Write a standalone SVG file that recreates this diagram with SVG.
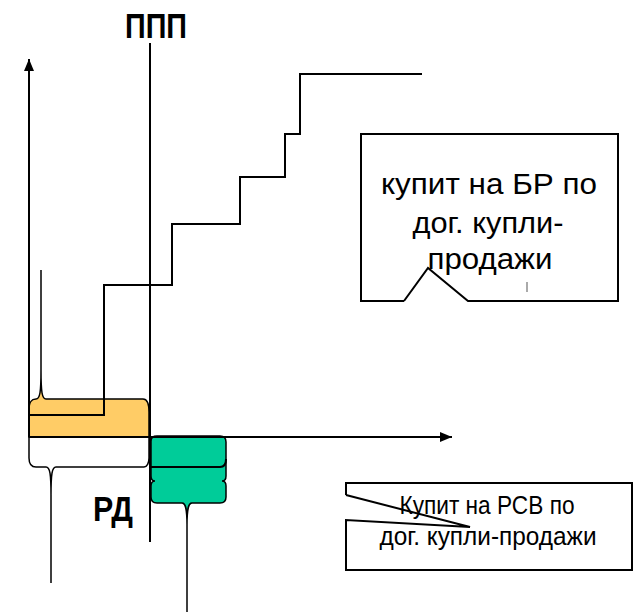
<svg xmlns="http://www.w3.org/2000/svg" width="634" height="613" viewBox="0 0 634 613">
<style>
.ln{fill:none;stroke:#000;stroke-width:2}
.thin{fill:none;stroke:#000;stroke-width:1.5}
.lbl{font-family:"Liberation Sans",Arial,sans-serif;font-weight:bold;font-size:35px;fill:#000}
.t1{font-family:"Liberation Sans",Arial,sans-serif;font-size:29px;fill:#000;text-anchor:middle}
.t2{font-family:"Liberation Sans",Arial,sans-serif;font-size:26px;fill:#000;text-anchor:middle}
</style>
<defs>
<marker id="ah" viewBox="0 0 12 10" refX="12" refY="5" markerWidth="12" markerHeight="10" markerUnits="userSpaceOnUse" orient="auto">
<path d="M0,0 L12,5 L0,10 Z" fill="#000"/>
</marker>
</defs>
<rect width="634" height="613" fill="#fff"/>
<g id="orange-brace">
<path d="M29,437 L29,410 C29,402 31,399 36,399 C40,399 41,392 41,370 L41,270 L41,370 C41,392 42,399 46,399 L143,399 C147,399 149,403 149,412 L149,437 Z" fill="#FFCC66" stroke="#000" stroke-width="1.5"/>
</g>
<g id="white-brace">
<path class="thin" d="M29,437 L29,458 C29,464 31,467 36,467 L46,467 C50,467 51,474 51,495 L51,583 L51,495 C51,474 52,467 56,467 L144,467 C147,467 149,463 149,458 L149,437"/>
</g>
<g id="green-brace">
<path d="M151,441 C151,437 153,436 157,436 L220,436 C224,436 226,438 226,442 L226,476 C226,479 225,481 222,481 C225,481 226,483 226,486 L226,497 C226,501 224,503 220,503 L192,503 C188,503 187,510 187,525 L187,612 L187,525 C187,510 186,503 182,503 L157,503 C153,503 151,501 151,497 L151,486 C151,483 152,481 155,481 C152,481 151,479 151,476 Z" fill="#00CC99" stroke="#000" stroke-width="1.5"/>
<path class="ln" d="M149,467 L220,467 C224,467 226,464 226,459"/>
</g>
<g id="connectors">
<line class="ln" x1="29" y1="437" x2="29" y2="59" marker-end="url(#ah)"/>
<line class="ln" x1="29" y1="437" x2="452" y2="437" marker-end="url(#ah)"/>
<line class="ln" x1="150" y1="43" x2="150" y2="542"/>
<path class="ln" d="M29,415 L104,415 L104,285 L172,285 L172,224 L240,224 L240,177 L285,177 L285,134 L300,134 L300,74 L422,74"/>
</g>
<g id="label-ppp">
<text class="lbl" x="125" y="38" textLength="62" lengthAdjust="spacingAndGlyphs">ППП</text>
</g>
<g id="label-rd">
<text class="lbl" x="93" y="521" textLength="40" lengthAdjust="spacingAndGlyphs">РД</text>
</g>
<g id="callout-br">
<path class="ln" d="M404,301 L361,301 L361,134 L618,134 L618,301 L468,301 L428,268 L404,301"/>
<line x1="527" y1="282" x2="527" y2="292" stroke="#aaa" stroke-width="2"/>
<text class="t1" x="489" y="194" textLength="216" lengthAdjust="spacingAndGlyphs">купит на БР по</text>
<text class="t1" x="488" y="233" textLength="151" lengthAdjust="spacingAndGlyphs">дог. купли-</text>
<text class="t1" x="490" y="269" textLength="125" lengthAdjust="spacingAndGlyphs">продажи</text>
</g>
<g id="callout-rsv">
<path class="ln" d="M346,495 L346,483 L632,483 L632,570 L346,570 L346,520 L470,527 L346,495"/>
<text class="t2" x="487" y="514" textLength="175" lengthAdjust="spacingAndGlyphs">Купит на РСВ по</text>
<text class="t2" x="488" y="545" textLength="217" lengthAdjust="spacingAndGlyphs">дог. купли-продажи</text>
</g>
</svg>
